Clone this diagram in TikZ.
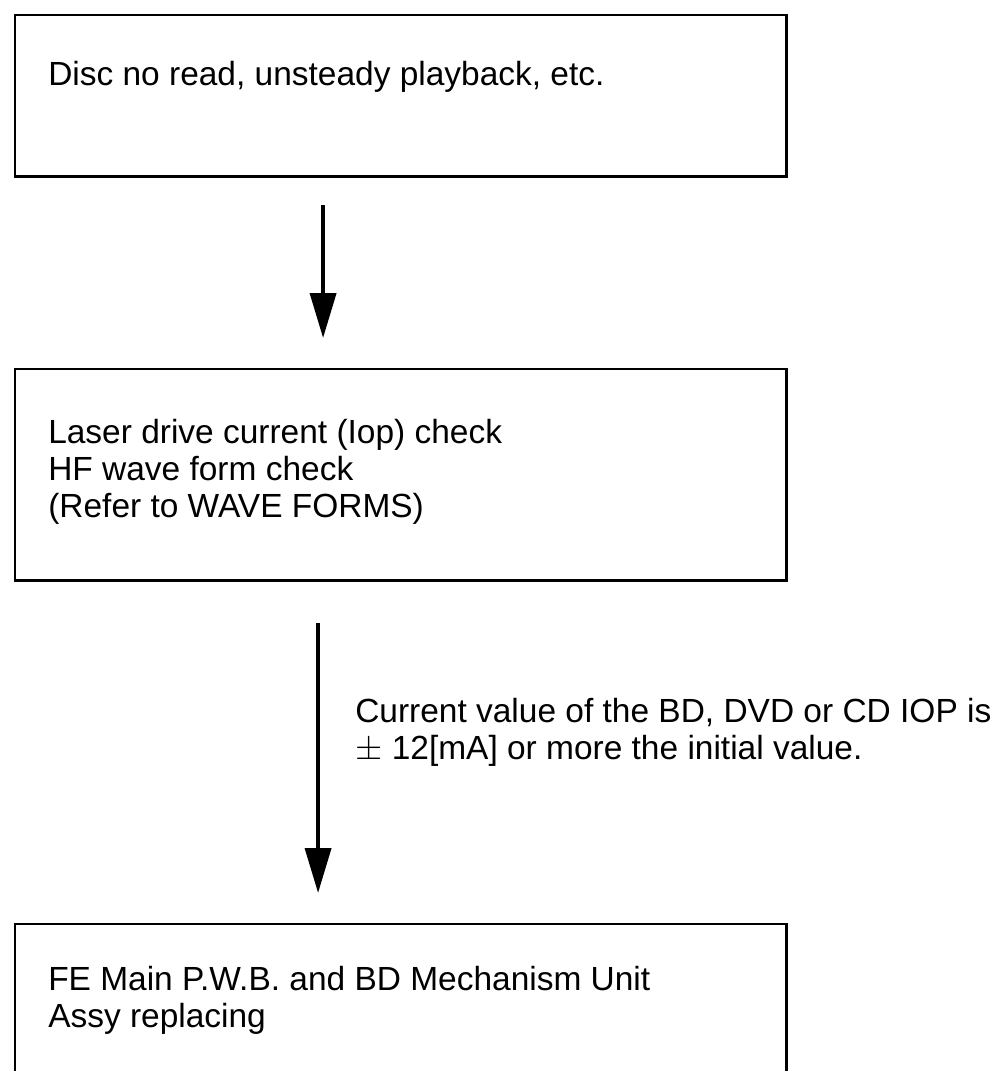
\documentclass[tikz,border=0pt]{standalone}
\usepackage{fontspec}
\setmainfont{Liberation Sans}
\usetikzlibrary{arrows.meta}

\begin{document}
\begin{tikzpicture}[
    x=0.025cm, y=-0.025cm,
    box/.style={rectangle, draw, line width=2.1pt, inner sep=0pt, outer sep=0pt, minimum width=19.275cm, anchor=north west},
    txt/.style={anchor=base west, align=left, inner sep=0pt, font=\fontsize{23.8pt}{26.2pt}\selectfont},
    arrow/.style={-{Triangle[length=31.9pt, width=18.4pt]}, line width=2.8pt}
]
    \useasboundingbox (0,0) rectangle (1003,1071);

    % Boxes
    \node[box, minimum height=4.025cm] (disc) at (15,15) {};
    \node[box, minimum height=5.275cm] (laser) at (15,369) {};
    \node[box, minimum height=4.15cm] (fe) at (15,924) {};

    % Texts in the boxes (base = last line)
    \node[txt] (disctxt) at (48,86) {Disc no read, unsteady playback, etc.};
    \node[txt] (lasertxt) at (48,517) {Laser drive current (Iop) check\\HF wave form check\\(Refer to WAVE FORMS)};
    \node[txt] (fetxt) at (48,1027) {FE Main P.W.B. and BD Mechanism Unit\\Assy replacing};

    % Arrows
    \draw[arrow, shorten <=0.725cm, shorten >=0.775cm] ([xshift=-1.9375cm]disc.south) -- ([xshift=-1.9375cm]laser.north);
    \draw[arrow, shorten <=1.075cm, shorten >=0.775cm] ([xshift=-2.0625cm]laser.south) -- ([xshift=-2.0625cm]fe.north);

    % Condition
    \node[txt] (cond) at (355,759) {Current value of the BD, DVD or CD IOP is\\$\pm$ 12[mA] or more the initial value.};
\end{tikzpicture}
\end{document}
